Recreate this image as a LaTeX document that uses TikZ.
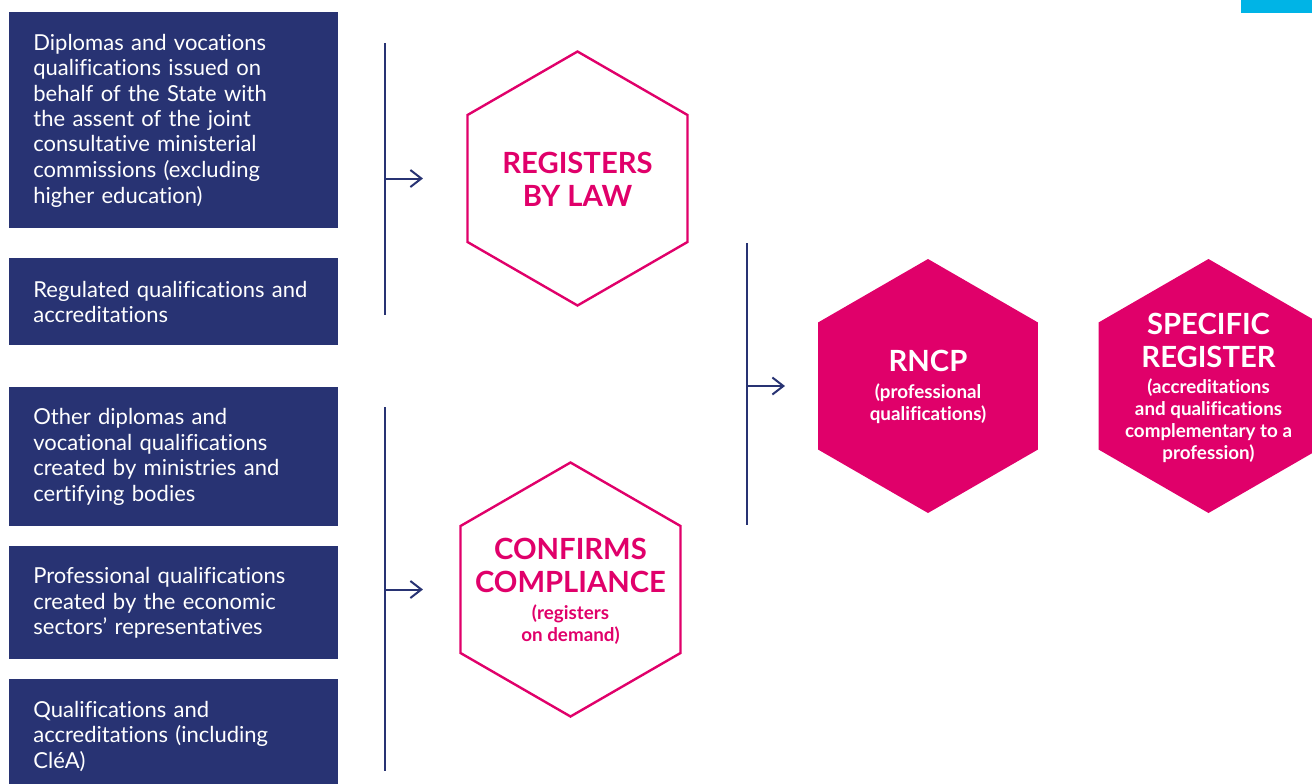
\documentclass[tikz,border=0pt]{standalone}
\usepackage{fontspec}
\setmainfont{Lato}[Ligatures=NoCommon]
\usetikzlibrary{shapes.geometric,arrows.meta}
\definecolor{navy}{HTML}{283373}
\definecolor{rose}{HTML}{E0006A}
\definecolor{sky}{HTML}{00B4E6}
\begin{document}
\begin{tikzpicture}[x=0.5pt,y=-0.5pt,
  srcbox/.style={fill=navy, text=white, anchor=north west,
    minimum width=164.5pt, inner xsep=12pt, inner ysep=0pt,
    text width=140.5pt, align=left,
    font=\fontsize{11}{12.75}\selectfont},
  hexshape/.style={regular polygon, regular polygon sides=6,
    shape border rotate=30, minimum size=127pt, inner sep=0pt, outer sep=0pt},
  hexout/.style={hexshape, draw=rose, line width=1.2pt},
  hexfill/.style={hexshape, fill=rose},
  hextitle/.style={align=center, inner sep=0pt,
    font=\fontsize{14.6}{16.5}\selectfont\bfseries},
  hexsub/.style={align=center, inner sep=0pt,
    font=\fontsize{9.4}{11}\selectfont\bfseries},
  bar/.style={draw=navy, line width=1pt},
  arr/.style={draw=navy, line width=1pt,
    -{Straight Barb[length=5.5pt,width=8.5pt,line width=1pt]}}
]
\clip (0,0) rectangle (1312,783);

% corner tab
\fill[sky] (1241,0) rectangle (1312,13);

% source qualifications
\node[srcbox, minimum height=108pt] (s1) at (9,12)
  {Diplomas and vocations\\qualifications issued on\\behalf of the State with\\the assent of the joint\\consultative ministerial\\commissions (excluding\\higher education)};
\node[srcbox, minimum height=43.5pt] (s2) at (9,258)
  {Regulated qualifications and\\accreditations};
\node[srcbox, minimum height=69.5pt] (s3) at (9,387)
  {Other diplomas and\\vocational qualifications\\created by ministries and\\certifying bodies};
\node[srcbox, minimum height=56.5pt] (s4) at (9,546)
  {Professional qualifications\\created by the economic\\sectors' representatives};
\node[srcbox, minimum height=57pt] (s5) at (9,679)
  {Qualifications and\\accreditations (including\\CléA)};

% registration routes
\node[hexout] (h1) at (577.5,178.5) {};
\node[hextitle, text=rose] at (577.5,179.5) {REGISTERS\\BY LAW};

\node[hexout] (h2) at (570.5,589.5) {};
\node[hextitle, text=rose] at (570.5,565) {CONFIRMS\\COMPLIANCE};
\node[hexsub, text=rose] at (570.5,624.5) {(registers\\on demand)};

% registers
\node[hexfill] (rncp) at (928,386) {};
\node[hextitle, text=white] at (928,361) {RNCP};
\node[hexsub, text=white] at (928,404) {(professional\\qualifications)};

\node[hexfill] (spec) at (1208.5,386) {};
\node[hextitle, text=white] at (1208.5,340.5) {SPECIFIC\\REGISTER};
\node[hexsub, text=white] at (1208.5,421) {(accreditations\\and qualifications\\complementary to a\\profession)};

% brackets and arrows
\coordinate (b1top) at (385,43);
\coordinate (b1bot) at (385,315);
\coordinate (b2top) at (385,407);
\coordinate (b2bot) at (385,771);
\coordinate (b3top) at (747,243);
\coordinate (b3bot) at (747,525);

\draw[bar] (b1top) -- (b1bot);
\draw[bar] (b2top) -- (b2bot);
\draw[bar] (b3top) -- (b3bot);

\draw[arr, shorten >=22.25pt] (b1top |- h1) -- (h1.west);
\draw[arr, shorten >=18.75pt] (b2top |- h2) -- (h2.west);
\draw[arr, shorten >=16.5pt] (b3top |- rncp) -- (rncp.west);
\end{tikzpicture}
\end{document}
